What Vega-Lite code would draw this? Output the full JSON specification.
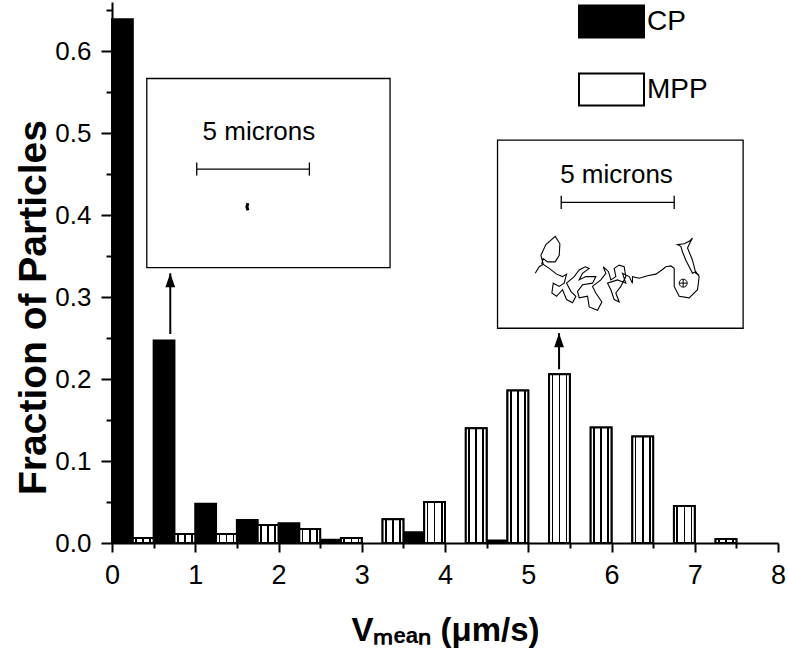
{
  "$schema": "https://vega.github.io/schema/vega-lite/v6.json",
  "autosize": "none",
  "width": 666,
  "height": 541,
  "padding": {"left": 112, "top": 2, "right": 10, "bottom": 117},
  "background": "white",
  "config": {
    "view": {"stroke": null},
    "font": "Liberation Sans"
  },
  "datasets": {
    "bars": [
      {"series": "CP", "lo": 0, "hi": 0.25, "fraction": 0.639},
      {"series": "CP", "lo": 0.5, "hi": 0.75, "fraction": 0.247},
      {"series": "CP", "lo": 1, "hi": 1.25, "fraction": 0.048},
      {"series": "CP", "lo": 1.5, "hi": 1.75, "fraction": 0.028},
      {"series": "CP", "lo": 2, "hi": 2.25, "fraction": 0.024},
      {"series": "CP", "lo": 2.5, "hi": 2.75, "fraction": 0.004},
      {"series": "CP", "lo": 3.5, "hi": 3.75, "fraction": 0.013},
      {"series": "CP", "lo": 4.5, "hi": 4.75, "fraction": 0.003},
      {"series": "MPP", "lo": 0.25, "hi": 0.5, "fraction": 0.006},
      {"series": "MPP", "lo": 0.75, "hi": 1, "fraction": 0.011},
      {"series": "MPP", "lo": 1.25, "hi": 1.5, "fraction": 0.011},
      {"series": "MPP", "lo": 1.75, "hi": 2, "fraction": 0.022},
      {"series": "MPP", "lo": 2.25, "hi": 2.5, "fraction": 0.017},
      {"series": "MPP", "lo": 2.75, "hi": 3, "fraction": 0.006},
      {"series": "MPP", "lo": 3.25, "hi": 3.5, "fraction": 0.029},
      {"series": "MPP", "lo": 3.75, "hi": 4, "fraction": 0.05},
      {"series": "MPP", "lo": 4.25, "hi": 4.5, "fraction": 0.14},
      {"series": "MPP", "lo": 4.75, "hi": 5, "fraction": 0.186},
      {"series": "MPP", "lo": 5.25, "hi": 5.5, "fraction": 0.206},
      {"series": "MPP", "lo": 5.75, "hi": 6, "fraction": 0.141},
      {"series": "MPP", "lo": 6.25, "hi": 6.5, "fraction": 0.13},
      {"series": "MPP", "lo": 6.75, "hi": 7, "fraction": 0.045},
      {"series": "MPP", "lo": 7.25, "hi": 7.5, "fraction": 0.005}
    ],
    "insets": [
      {"inset": "CP", "xa": 0.418, "xb": 3.34, "ya": 0.3359, "yb": 0.5667},
      {"inset": "MPP", "xa": 4.631, "xb": 7.581, "ya": 0.262, "yb": 0.4915}
    ],
    "labels": [
      {"inset": "CP", "x": 1.765, "y": 0.5016, "text": "5 microns"},
      {"inset": "MPP", "x": 6.06, "y": 0.449, "text": "5 microns"}
    ],
    "scalebars": [
      {"inset": "CP", "xa": 1.018, "xb": 2.371, "y": 0.4562},
      {"inset": "MPP", "xa": 5.396, "xb": 6.753, "y": 0.4156}
    ],
    "caps": [
      {"inset": "CP", "x": 1.018, "ya": 0.4482, "yb": 0.4642},
      {"inset": "CP", "x": 2.371, "ya": 0.4482, "yb": 0.4642},
      {"inset": "MPP", "x": 5.396, "ya": 0.4076, "yb": 0.4236},
      {"inset": "MPP", "x": 6.753, "ya": 0.4076, "yb": 0.4236}
    ],
    "blob": [{"x": 1.63, "y": 0.4102}],
    "start": [{"x": 6.861, "y": 0.317}],
    "arrows": [
      {"x": 0.7, "ya": 0.255, "yb": 0.329},
      {"x": 5.37, "ya": 0.212, "yb": 0.256}
    ],
    "track": [
      {"step": 1, "x": 5.084, "y": 0.329},
      {"step": 2, "x": 5.132, "y": 0.337},
      {"step": 3, "x": 5.18, "y": 0.34},
      {"step": 4, "x": 5.152, "y": 0.351},
      {"step": 5, "x": 5.212, "y": 0.364},
      {"step": 6, "x": 5.324, "y": 0.374},
      {"step": 7, "x": 5.38, "y": 0.365},
      {"step": 8, "x": 5.372, "y": 0.351},
      {"step": 9, "x": 5.324, "y": 0.343},
      {"step": 10, "x": 5.232, "y": 0.343},
      {"step": 11, "x": 5.18, "y": 0.347},
      {"step": 12, "x": 5.164, "y": 0.341},
      {"step": 13, "x": 5.252, "y": 0.335},
      {"step": 14, "x": 5.34, "y": 0.328},
      {"step": 15, "x": 5.412, "y": 0.325},
      {"step": 16, "x": 5.46, "y": 0.328},
      {"step": 17, "x": 5.432, "y": 0.317},
      {"step": 18, "x": 5.372, "y": 0.313},
      {"step": 19, "x": 5.3, "y": 0.317},
      {"step": 20, "x": 5.284, "y": 0.305},
      {"step": 21, "x": 5.34, "y": 0.301},
      {"step": 22, "x": 5.412, "y": 0.309},
      {"step": 23, "x": 5.46, "y": 0.297},
      {"step": 24, "x": 5.532, "y": 0.293},
      {"step": 25, "x": 5.572, "y": 0.301},
      {"step": 26, "x": 5.512, "y": 0.307},
      {"step": 27, "x": 5.46, "y": 0.317},
      {"step": 28, "x": 5.552, "y": 0.325},
      {"step": 29, "x": 5.612, "y": 0.333},
      {"step": 30, "x": 5.684, "y": 0.337},
      {"step": 31, "x": 5.732, "y": 0.335},
      {"step": 32, "x": 5.652, "y": 0.329},
      {"step": 33, "x": 5.612, "y": 0.321},
      {"step": 34, "x": 5.692, "y": 0.325},
      {"step": 35, "x": 5.812, "y": 0.325},
      {"step": 36, "x": 5.772, "y": 0.317},
      {"step": 37, "x": 5.652, "y": 0.315},
      {"step": 38, "x": 5.592, "y": 0.307},
      {"step": 39, "x": 5.612, "y": 0.299},
      {"step": 40, "x": 5.712, "y": 0.301},
      {"step": 41, "x": 5.732, "y": 0.288},
      {"step": 42, "x": 5.832, "y": 0.284},
      {"step": 43, "x": 5.884, "y": 0.294},
      {"step": 44, "x": 5.812, "y": 0.305},
      {"step": 45, "x": 5.772, "y": 0.313},
      {"step": 46, "x": 5.872, "y": 0.321},
      {"step": 47, "x": 5.932, "y": 0.329},
      {"step": 48, "x": 5.9, "y": 0.337},
      {"step": 49, "x": 5.964, "y": 0.331},
      {"step": 50, "x": 5.992, "y": 0.321},
      {"step": 51, "x": 6.052, "y": 0.325},
      {"step": 52, "x": 6.032, "y": 0.335},
      {"step": 53, "x": 6.092, "y": 0.339},
      {"step": 54, "x": 6.152, "y": 0.337},
      {"step": 55, "x": 6.172, "y": 0.325},
      {"step": 56, "x": 6.112, "y": 0.313},
      {"step": 57, "x": 6.052, "y": 0.305},
      {"step": 58, "x": 6.092, "y": 0.294},
      {"step": 59, "x": 6.032, "y": 0.297},
      {"step": 60, "x": 5.992, "y": 0.309},
      {"step": 61, "x": 5.952, "y": 0.317},
      {"step": 62, "x": 6.072, "y": 0.321},
      {"step": 63, "x": 6.172, "y": 0.317},
      {"step": 64, "x": 6.132, "y": 0.329},
      {"step": 65, "x": 6.212, "y": 0.325},
      {"step": 66, "x": 6.252, "y": 0.317},
      {"step": 67, "x": 6.252, "y": 0.325},
      {"step": 68, "x": 6.332, "y": 0.323},
      {"step": 69, "x": 6.432, "y": 0.326},
      {"step": 70, "x": 6.533, "y": 0.328},
      {"step": 71, "x": 6.605, "y": 0.333},
      {"step": 72, "x": 6.653, "y": 0.337},
      {"step": 73, "x": 6.713, "y": 0.338},
      {"step": 74, "x": 6.753, "y": 0.335},
      {"step": 75, "x": 6.753, "y": 0.313},
      {"step": 76, "x": 6.813, "y": 0.301},
      {"step": 77, "x": 6.933, "y": 0.299},
      {"step": 78, "x": 7.033, "y": 0.309},
      {"step": 79, "x": 7.053, "y": 0.325},
      {"step": 80, "x": 7.013, "y": 0.331},
      {"step": 81, "x": 6.973, "y": 0.329},
      {"step": 82, "x": 6.933, "y": 0.337},
      {"step": 83, "x": 6.893, "y": 0.345},
      {"step": 84, "x": 6.853, "y": 0.355},
      {"step": 85, "x": 6.833, "y": 0.362},
      {"step": 86, "x": 6.793, "y": 0.364},
      {"step": 87, "x": 6.873, "y": 0.365},
      {"step": 88, "x": 6.933, "y": 0.368},
      {"step": 89, "x": 6.973, "y": 0.372},
      {"step": 90, "x": 6.941, "y": 0.366},
      {"step": 91, "x": 6.913, "y": 0.36},
      {"step": 92, "x": 6.973, "y": 0.345},
      {"step": 93, "x": 7.013, "y": 0.329},
      {"step": 94, "x": 7.053, "y": 0.327}
    ]
  },
  "layer": [
    {
      "data": {"name": "bars"},
      "mark": {"type": "rect", "stroke": "black", "strokeWidth": 2},
      "encoding": {
        "x": {
          "field": "lo", "type": "quantitative",
          "scale": {"domain": [0, 8], "nice": false, "zero": false},
          "axis": {
            "values": [0, 0.5, 1, 1.5, 2, 2.5, 3, 3.5, 4, 4.5, 5, 5.5, 6, 6.5, 7, 7.5, 8],
            "labelExpr": "datum.value % 1 === 0 ? format(datum.value, 'd') : ''",
            "tickSize": {"condition": {"test": "datum.value % 1 === 0", "value": 9}, "value": 5},
            "labelPadding": 10,
            "labelFontSize": 27, "labelFont": "Liberation Sans", "labelColor": "black",
            "labelFlush": false, "labelOverlap": false,
            "grid": false, "domainColor": "black", "domainWidth": 2,
            "tickColor": "black", "tickWidth": 2,
            "title": "Vₘₑₐₙ (μm/s)",
            "titleFont": "Liberation Sans", "titleFontSize": 33, "titleFontWeight": "bold",
            "titleColor": "black", "titlePadding": 26
          }
        },
        "x2": {"field": "hi"},
        "y": {
          "field": "fraction", "type": "quantitative",
          "scale": {"domain": [0, 0.66], "nice": false, "zero": true},
          "axis": {
            "values": [0, 0.05, 0.1, 0.15, 0.2, 0.25, 0.3, 0.35, 0.4, 0.45, 0.5, 0.55, 0.6, 0.65],
            "labelExpr": "abs(datum.value * 10 - round(datum.value * 10)) < 0.001 ? format(datum.value, '.1f') : ''",
            "tickSize": {"condition": {"test": "abs(datum.value * 10 - round(datum.value * 10)) < 0.001", "value": 11}, "value": 6},
            "labelPadding": 10,
            "labelFontSize": 26, "labelFont": "Liberation Sans", "labelColor": "black",
            "labelFlush": false, "labelOverlap": false,
            "grid": false, "domainColor": "black", "domainWidth": 2,
            "tickColor": "black", "tickWidth": 2,
            "title": "Fraction of Particles",
            "titleFont": "Liberation Sans", "titleFontSize": 39, "titleFontWeight": "bold",
            "titleColor": "black",
            "titleX": -67, "titleY": 305, "titleBaseline": "alphabetic", "titleAngle": 270
          }
        },
        "fill": {
          "field": "series", "type": "nominal",
          "scale": {"domain": ["CP", "MPP"], "range": ["black", "white"]},
          "legend": {
            "title": null,
            "orient": "none",
            "legendX": 466,
            "legendY": -14,
            "padding": 0,
            "symbolType": "M-1,-0.49H1V0.49H-1Z",
            "symbolSize": 4225,
            "symbolStrokeColor": "black",
            "symbolStrokeWidth": 2,
            "symbolOpacity": 1,
            "labelFont": "Liberation Sans",
            "labelFontSize": 28,
            "labelColor": "black",
            "labelOffset": 2,
            "rowPadding": 14,
            "labelLimit": 200,
            "encode": {
              "symbols": {
                "update": {
                  "stroke": {"value": "black"},
                  "strokeWidth": {"value": 2}
                }
              }
            }
          }
        }
      }
    },
    {
      "data": {"name": "bars"},
      "transform": [{"filter": "datum.series === 'MPP'"}],
      "mark": {
        "type": "rect", "stroke": "black", "strokeWidth": 2,
        "fill": {"gradient": "linear", "x1": 0, "y1": 0, "x2": 1, "y2": 0,
          "stops": [
            {"offset": 0, "color": "white"},
            {"offset": 0.12, "color": "white"},
            {"offset": 0.12, "color": "black"},
            {"offset": 0.2, "color": "black"},
            {"offset": 0.2, "color": "white"},
            {"offset": 0.46, "color": "white"},
            {"offset": 0.46, "color": "black"},
            {"offset": 0.54, "color": "black"},
            {"offset": 0.54, "color": "white"},
            {"offset": 0.8, "color": "white"},
            {"offset": 0.8, "color": "black"},
            {"offset": 0.88, "color": "black"},
            {"offset": 0.88, "color": "white"},
            {"offset": 1, "color": "white"}
          ]}
      },
      "encoding": {
        "x": {"field": "lo", "type": "quantitative", "scale": {"domain": [0, 8]}},
        "x2": {"field": "hi"},
        "y": {"field": "fraction", "type": "quantitative", "scale": {"domain": [0, 0.66]}}
      }
    },
    {
      "data": {"name": "insets"},
      "mark": {"type": "rect", "fill": "white", "stroke": "black", "strokeWidth": 1.3},
      "encoding": {
        "x": {"field": "xa", "type": "quantitative", "scale": {"domain": [0, 8]}},
        "x2": {"field": "xb"},
        "y": {"field": "ya", "type": "quantitative", "scale": {"domain": [0, 0.66]}},
        "y2": {"field": "yb"}
      }
    },
    {
      "data": {"name": "labels"},
      "mark": {"type": "text", "font": "Liberation Sans", "fontSize": 26, "color": "black", "align": "center", "baseline": "middle"},
      "encoding": {
        "x": {"field": "x", "type": "quantitative", "scale": {"domain": [0, 8]}},
        "y": {"field": "y", "type": "quantitative", "scale": {"domain": [0, 0.66]}},
        "text": {"field": "text"}
      }
    },
    {
      "data": {"name": "scalebars"},
      "mark": {"type": "rule", "color": "black", "strokeWidth": 1.3},
      "encoding": {
        "x": {"field": "xa", "type": "quantitative", "scale": {"domain": [0, 8]}},
        "x2": {"field": "xb"},
        "y": {"field": "y", "type": "quantitative", "scale": {"domain": [0, 0.66]}}
      }
    },
    {
      "data": {"name": "caps"},
      "mark": {"type": "rule", "color": "black", "strokeWidth": 1.3},
      "encoding": {
        "x": {"field": "x", "type": "quantitative", "scale": {"domain": [0, 8]}},
        "y": {"field": "ya", "type": "quantitative", "scale": {"domain": [0, 0.66]}},
        "y2": {"field": "yb"}
      }
    },
    {
      "data": {"name": "blob"},
      "mark": {"type": "point", "shape": "M-0.3,-1L0.4,-0.8L0.2,0L0.4,0.8L-0.3,1L-0.6,0Z", "size": 64, "filled": true, "color": "black", "opacity": 1},
      "encoding": {
        "x": {"field": "x", "type": "quantitative", "scale": {"domain": [0, 8]}},
        "y": {"field": "y", "type": "quantitative", "scale": {"domain": [0, 0.66]}}
      }
    },
    {
      "data": {"name": "track"},
      "mark": {"type": "line", "color": "black", "strokeWidth": 1.1, "strokeJoin": "miter"},
      "encoding": {
        "x": {"field": "x", "type": "quantitative", "scale": {"domain": [0, 8]}},
        "y": {"field": "y", "type": "quantitative", "scale": {"domain": [0, 0.66]}},
        "order": {"field": "step", "type": "quantitative"}
      }
    },
    {
      "data": {"name": "start"},
      "mark": {"type": "point", "shape": "M-1,0A1,1 0 1,0 1,0A1,1 0 1,0 -1,0ZM-1,0L1,0M0,-1L0,1", "size": 64, "filled": false, "color": "black", "strokeWidth": 1, "opacity": 1},
      "encoding": {
        "x": {"field": "x", "type": "quantitative", "scale": {"domain": [0, 8]}},
        "y": {"field": "y", "type": "quantitative", "scale": {"domain": [0, 0.66]}}
      }
    },
    {
      "data": {"name": "arrows"},
      "mark": {"type": "rule", "color": "black", "strokeWidth": 2},
      "encoding": {
        "x": {"field": "x", "type": "quantitative", "scale": {"domain": [0, 8]}},
        "y": {"field": "ya", "type": "quantitative", "scale": {"domain": [0, 0.66]}},
        "y2": {"field": "yb"}
      }
    },
    {
      "data": {"name": "arrows"},
      "mark": {"type": "point", "shape": "M0,-1L0.7,1L-0.7,1Z", "size": 196, "filled": true, "color": "black", "opacity": 1, "yOffset": 7},
      "encoding": {
        "x": {"field": "x", "type": "quantitative", "scale": {"domain": [0, 8]}},
        "y": {"field": "yb", "type": "quantitative", "scale": {"domain": [0, 0.66]}}
      }
    }
  ]
}
